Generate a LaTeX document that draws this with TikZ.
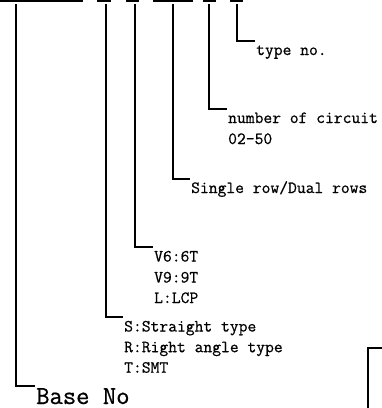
\documentclass[tikz,border=0pt]{standalone}
\usepackage{fontspec}
\newfontfamily\refmono[FakeBold=0.7]{Latin Modern Mono}
\begin{document}
\begin{tikzpicture}[x=1pt,y=-1pt,
  ln/.style={line width=1.6pt,black},
  lbl/.style={inner sep=0pt,anchor=base west,font=\refmono\fontsize{17.1}{20.5}\selectfont},
  big/.style={inner sep=0pt,anchor=base west,font=\refmono\fontsize{25.9}{30}\selectfont}]
\useasboundingbox (0,0) rectangle (382,408);
% top bars
\draw[ln] (0,0.8) -- (83,0.8);
\draw[ln] (97,0.8) -- (111,0.8);
\draw[ln] (126,0.8) -- (139,0.8);
\draw[ln] (153,0.8) -- (193,0.8);
\draw[ln] (203,0.8) -- (216,0.8);
\draw[ln] (230,0.8) -- (243,0.8);
% tops of leaders
\coordinate (t1) at (16,4);
\coordinate (t2) at (106,4);
\coordinate (t3) at (135,4);
\coordinate (t4) at (173,4);
\coordinate (t5) at (209,4);
\coordinate (t6) at (237,4);
% elbow ends
\coordinate (e1) at (35,386);
\coordinate (e2) at (123,317);
\coordinate (e3) at (153,247);
\coordinate (e4) at (190,179);
\coordinate (e5) at (227,109);
\coordinate (e6) at (255,41);
% labels
\node[lbl] (type) at (256,55) {type no.};
\node[lbl] (circ) at (228,123) {number of circuit};
\node[lbl] (circb) at (228,144) {02-50};
\node[lbl] (row) at (191,193) {Single row/Dual rows};
\node[lbl] (v6) at (154,261.5) {V6:6T};
\node[lbl] (v9) at (154,282.5) {V9:9T};
\node[lbl] (lcp) at (154,303) {L:LCP};
\node[lbl] (st) at (124,331.5) {S:Straight type};
\node[lbl] (ra) at (124,352.2) {R:Right angle type};
\node[lbl] (smt) at (124,372.7) {T:SMT};
\node[big] (base) at (36,404) {Base No};
% leaders
\draw[ln] (t1) |- (e1);
\draw[ln] (t2) |- (e2);
\draw[ln] (t3) |- (e3);
\draw[ln] (t4) |- (e4);
\draw[ln] (t5) |- (e5);
\draw[ln] (t6) |- (e6);
% corner at bottom right
\coordinate (c1) at (368,408);
\coordinate (c2) at (382,348);
\draw[ln] (c1) |- (c2);
\end{tikzpicture}
\end{document}
